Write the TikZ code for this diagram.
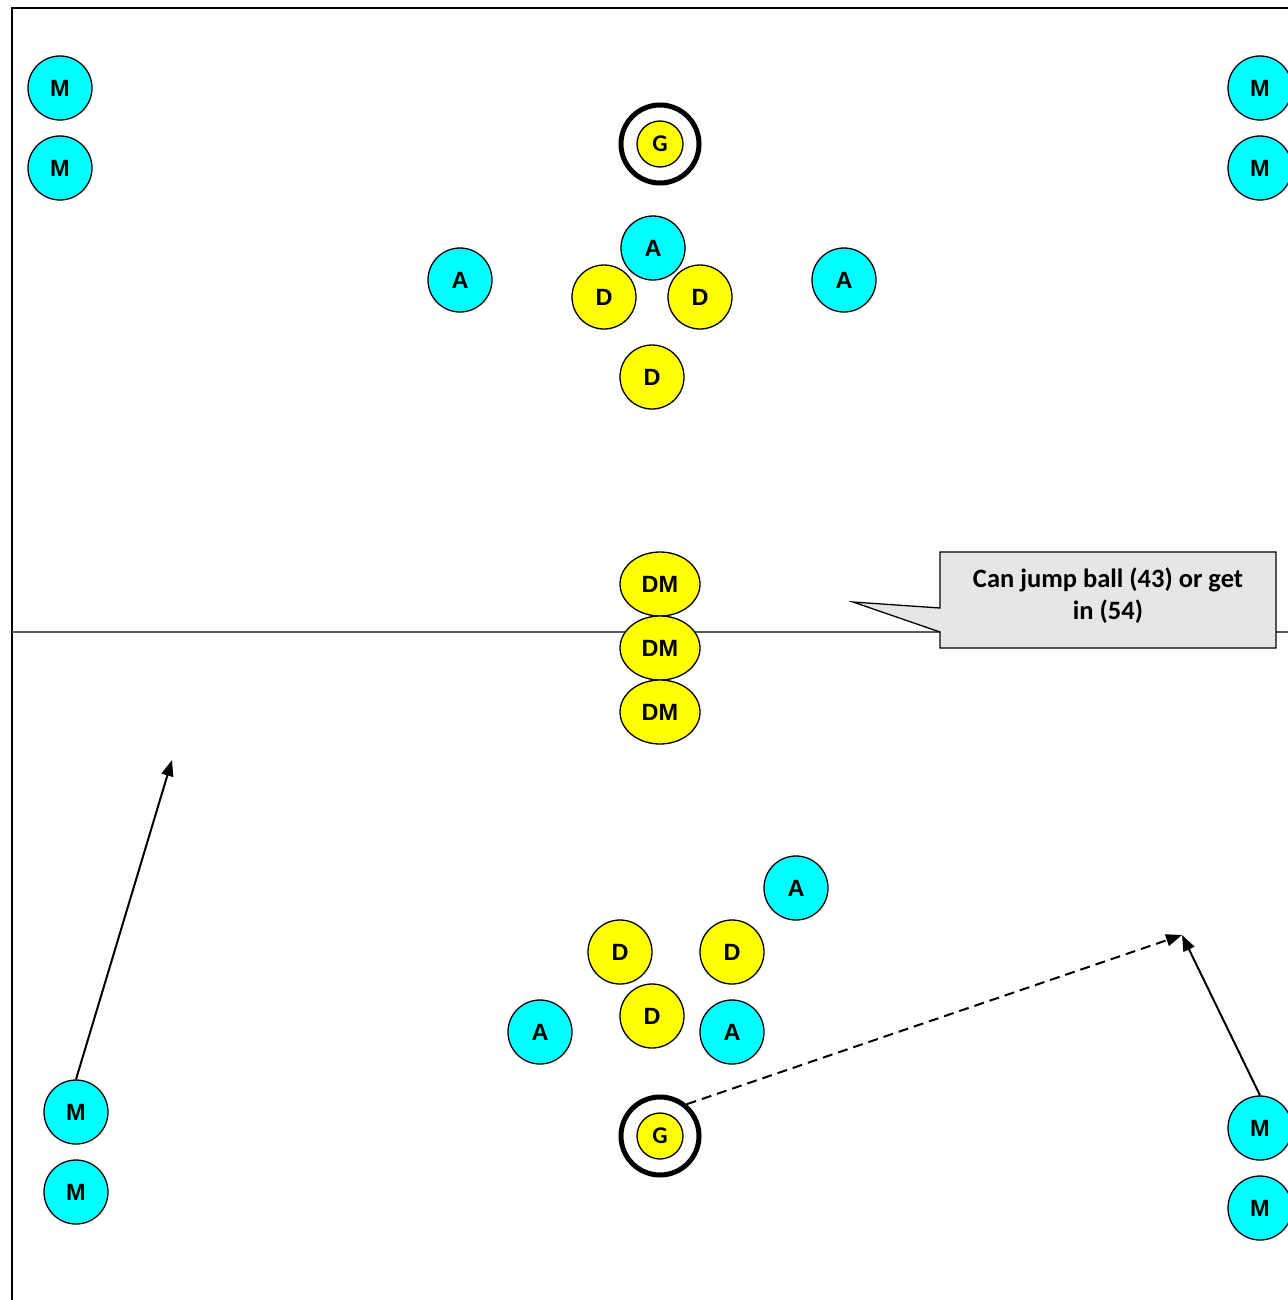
\documentclass[tikz,border=0pt]{standalone}
\usepackage{fontspec}
\setmainfont{Liberation Sans}
\newfontfamily\calfont{Carlito}
\usetikzlibrary{arrows.meta,shapes.geometric}
\definecolor{pcyan}{RGB}{0,255,255}
\definecolor{pyellow}{RGB}{255,255,0}
\definecolor{callgray}{RGB}{230,230,230}
\definecolor{linegray}{RGB}{90,90,90}
\tikzset{
  player/.style={circle,draw=black,line width=1.3pt,minimum size=64pt,inner sep=0pt,font=\fontsize{23.5}{23.5}\selectfont\bfseries},
  att/.style={player,fill=pcyan},
  def/.style={player,fill=pyellow},
  dmid/.style={ellipse,draw=black,line width=1.3pt,fill=pyellow,minimum width=80pt,minimum height=64pt,inner sep=0pt,font=\fontsize{23.5}{23.5}\selectfont\bfseries},
  goalring/.style={circle,draw=black,line width=5pt,minimum size=78pt,inner sep=0pt},
  keeper/.style={circle,draw=black,line width=1.3pt,fill=pyellow,minimum size=46pt,inner sep=0pt,font=\calfont\fontsize{24}{24}\selectfont\bfseries},
  run/.style={line width=2pt,-{Triangle[length=16pt,width=12pt]}},
  pass/.style={run,dash pattern=on 10pt off 6pt},
}
\begin{document}
\begin{tikzpicture}[x=1pt,y=-1pt]
\useasboundingbox (0,0) rectangle (1287,1300);
% field
\draw[line width=2pt] (12,1300) -- (12,8) -- (1290,8);
\draw[linegray,line width=1.2pt] (12,632) -- (1290,632);
% top half
\node[att] (m1) at (60,88) {M};
\node[att] (m2) at (60,168) {M};
\node[att] (m3) at (1260,88) {M};
\node[att] (m4) at (1260,168) {M};
\node[goalring] (g1ring) at (660,144) {};
\node[keeper] (g1) at (660,144) {G};
\node[att] (a1) at (653,248) {A};
\node[def] (d1) at (604,297) {D};
\node[def] (d2) at (700,297) {D};
\node[def] (d3) at (652,377) {D};
\node[att] (a2) at (460,280) {A};
\node[att] (a3) at (844,280) {A};
% midfield
\node[dmid] (dm1) at (660,584) {DM};
\node[dmid] (dm2) at (660,648) {DM};
\node[dmid] (dm3) at (660,712) {DM};
% callout
\draw[line width=1.3pt,fill=callgray] (940,552) -- (1276,552) -- (1276,648) -- (940,648) -- (940,632) -- (853,602) -- (940,608) -- cycle;
\node[align=center,font=\calfont\fontsize{26.5}{32}\selectfont\bfseries] (note) at (1108,596) {Can jump ball (43) or get\\in (54)};
% bottom half
\node[att] (a4) at (796,888) {A};
\node[def] (d4) at (620,952) {D};
\node[def] (d5) at (732,952) {D};
\node[def] (d6) at (652,1016) {D};
\node[att] (a5) at (540,1032) {A};
\node[att] (a6) at (732,1032) {A};
\node[goalring] (g2ring) at (660,1136) {};
\node[keeper] (g2) at (660,1136) {G};
\node[att] (m5) at (76,1112) {M};
\node[att] (m6) at (76,1192) {M};
\node[att] (m7) at (1260,1128) {M};
\node[att] (m8) at (1260,1208) {M};
% movements
\coordinate (t1) at (172,760);
\coordinate (t2) at (1182,935);
\draw[run] (m5.north) -- (t1);
\draw[pass] (g2ring.50) -- (t2);
\draw[run] (m7.north) -- (t2);
\end{tikzpicture}
\end{document}
